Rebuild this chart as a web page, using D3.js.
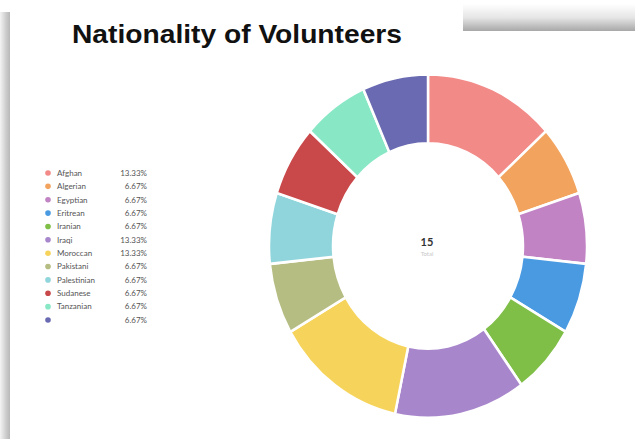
<!DOCTYPE html>
<html><head><meta charset="utf-8">
<script src="https://cdn.jsdelivr.net/npm/d3@7"></script>
<style>body{margin:0;background:#fff;}svg{display:block;}</style>
</head><body>
<svg id="c" width="635" height="439"></svg>
<script>
const categories = ["Afghan","Algerian","Egyptian","Eritrean","Iranian","Iraqi","Moroccan","Pakistani","Palestinian","Sudanese","Tanzanian",""];
const counts = [2,1,1,1,1,2,2,1,1,1,1,1];
const percentLabels = ["13.33%","6.67%","6.67%","6.67%","6.67%","13.33%","13.33%","6.67%","6.67%","6.67%","6.67%","6.67%"];
const colors = ["#f28a88","#f2a35e","#c183c4","#4a9ae2","#7fbf47","#a886cc","#f6d45c","#b6bd82","#90d5dc","#c9484a","#88e8c6","#6a6ab2"];
const title = "Nationality of Volunteers";
const centerLabel = "Total";

const svg = d3.select("#c");
const defs = svg.append("defs");
const g1 = defs.append("linearGradient").attr("id","band").attr("x1",0).attr("y1",0).attr("x2",0).attr("y2",1);
g1.append("stop").attr("offset","0").attr("stop-color","#ffffff");
g1.append("stop").attr("offset","0.5").attr("stop-color","#e6e6e6");
g1.append("stop").attr("offset","1").attr("stop-color","#a8a8a8");
const g2 = defs.append("linearGradient").attr("id","side").attr("x1",0).attr("y1",0).attr("x2",1).attr("y2",0);
g2.append("stop").attr("offset","0").attr("stop-color","#f4f4f4");
g2.append("stop").attr("offset","0.6").attr("stop-color","#cdcdcd");
g2.append("stop").attr("offset","1").attr("stop-color","#b8b8b8");

// background framing
svg.append("rect").attr("x",463).attr("y",4).attr("width",172).attr("height",27).attr("fill","url(#band)");
svg.append("rect").attr("x",0).attr("y",12).attr("width",10).attr("height",427).attr("fill","url(#side)");

svg.append("text").attr("x",72).attr("y",43).attr("font-family","Liberation Sans, Arial, sans-serif")
  .attr("font-weight","bold").attr("font-size",25).attr("fill","#111")
  .attr("textLength",330).attr("lengthAdjust","spacingAndGlyphs").text(title);

// donut
const cx = 428, cy = 246, rOuter = 159, rInner = 95;
const pie = d3.pie().sort(null).value(d => d);
const arc = d3.arc().innerRadius(rInner).outerRadius(rOuter);
const donut = svg.append("g").attr("transform",`translate(${cx},${cy}) scale(1,1.08)`);
donut.selectAll("path").data(pie(counts)).join("path")
  .attr("d", arc).attr("fill",(d,i)=>colors[i]).attr("stroke","#fff").attr("stroke-width",2.5);

const total = d3.sum(counts);
svg.append("text").attr("x",cx-1).attr("y",246).attr("text-anchor","middle")
  .attr("font-family","Lato, sans-serif").attr("font-size",11).attr("font-weight","bold").attr("fill","#333").text(total);
svg.append("text").attr("x",cx-1).attr("y",256).attr("text-anchor","middle")
  .attr("font-family","Lato, sans-serif").attr("font-size",6).attr("fill","#c8c8c8").text(centerLabel);

// legend
const y = d3.scalePoint().domain(d3.range(categories.length)).range([173,320]);
const lg = svg.append("g");
const rows = lg.selectAll("g").data(categories).join("g").attr("transform",(d,i)=>`translate(0,${y(i)})`);
rows.append("circle").attr("cx",48).attr("cy",0).attr("r",2.8).attr("fill",(d,i)=>colors[i]);
rows.append("text").attr("x",57).attr("y",2.8).attr("font-family","Lato, sans-serif").attr("font-size",8)
  .attr("fill","#555").text(d=>d);
rows.append("text").attr("x",147).attr("y",2.8).attr("text-anchor","end").attr("font-family","Lato, sans-serif")
  .attr("font-size",8).attr("fill","#555").text((d,i)=>percentLabels[i]);
</script>
</body></html>
